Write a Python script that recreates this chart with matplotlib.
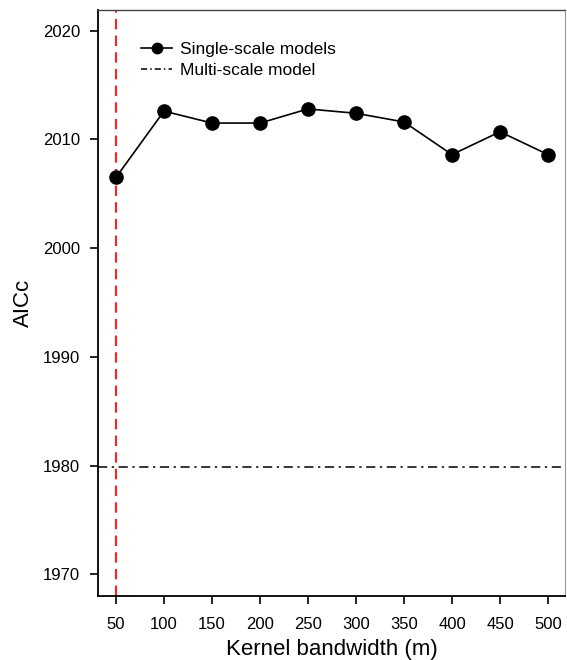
import matplotlib
matplotlib.use("Agg")
import matplotlib.pyplot as plt
from matplotlib.lines import Line2D

bandwidth = [50, 100, 150, 200, 250, 300, 350, 400, 450, 500]
aicc_single = [2006.5, 2012.6, 2011.5, 2011.5, 2012.8, 2012.4, 2011.6, 2008.6, 2010.7, 2008.6]
aicc_multi = 1979.9
best_bandwidth = 50
yticks = [1970, 1980, 1990, 2000, 2010, 2020]

plt.rcParams['font.family'] = ['Liberation Sans', 'DejaVu Sans']

fig = plt.figure(figsize=(5.67, 6.6), dpi=100)
ax = fig.add_axes([98/567, 1-596/660, (565-98)/567, (596-10)/660])

ax.plot(bandwidth, aicc_single, color='black', lw=1.2, marker='o', ms=9.5, zorder=3)
ax.axhline(aicc_multi, color='black', lw=1.1, ls=(0, (6, 3, 1.5, 3)))
ax.axvline(best_bandwidth, color='#ff2020', lw=1.5, ls=(0, (5, 3)))

ax.set_xlim(31.25, 517.7)
ax.set_ylim(1968.0, 2021.9)
ax.set_xticks(bandwidth)
ax.set_yticks(yticks)
ax.tick_params(direction='out', length=6, width=1.2, labelsize=12, colors='black')
ax.tick_params(axis='y', pad=7)
ax.tick_params(axis='x', pad=9)
ax.set_xlabel('Kernel bandwidth (m)', fontsize=16, labelpad=5)
ax.set_ylabel('AICc', fontsize=16, labelpad=6)

for side in ['left', 'bottom']:
    ax.spines[side].set_linewidth(1.3)
    ax.spines[side].set_color('black')
ax.spines['top'].set_linewidth(1.0)
ax.spines['top'].set_color('#444444')
ax.spines['right'].set_linewidth(0.8)
ax.spines['right'].set_color('#999999')

handles = [Line2D([0], [0], color='black', lw=1.2, marker='o', ms=7.5),
           Line2D([0], [0], color='black', lw=1.1, ls=(0, (4, 2, 1, 2)))]
ax.legend(handles, ['Single-scale models', 'Multi-scale model'], loc='upper left',
          bbox_to_anchor=(0.067, 0.967), frameon=False, fontsize=12.5, handlelength=1.75,
          handletextpad=0.45, labelspacing=0.35, borderaxespad=0.3)

fig.savefig('out.png', dpi=100)
